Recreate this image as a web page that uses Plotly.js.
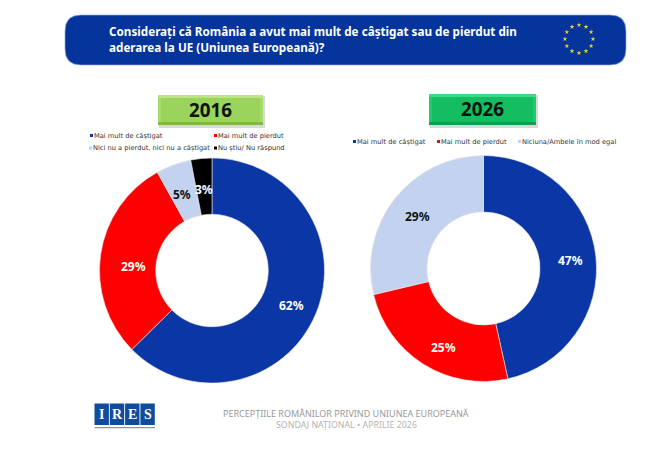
<!DOCTYPE html>
<html><head><meta charset="utf-8">
<script src="https://cdn.plot.ly/plotly-3.0.1.min.js"></script>
<style>html,body{margin:0;padding:0;background:#fff}</style></head>
<body><div id="chart" style="width:648px;height:476px"></div>
<script>
const labels2016 = ["Mai mult de câștigat","Mai mult de pierdut","Nici nu a pierdut, nici nu a câștigat","Nu știu/ Nu răspund"];
const values2016 = [62,29,5,3];
const colors2016 = ["#0B36A5","#FF0000","#C3D3EF","#000000"];
const textColors2016 = ["#ffffff","#ffffff","#111111","#ffffff"];
const labels2026 = ["Mai mult de câștigat","Mai mult de pierdut","Niciuna/Ambele în mod egal"];
const values2026 = [47,25,29];
const colors2026 = ["#0B36A5","#FF0000","#C3D3EF"];
const textColors2026 = ["#ffffff","#ffffff","#111111"];
const questionLines = ["Considerați că România a avut mai mult de câștigat sau de pierdut din","aderarea la UE (Uniunea Europeană)?"];
const footerLines = ["PERCEPȚIILE ROMÂNILOR PRIVIND UNIUNEA EUROPEANĂ","SONDAJ NAȚIONAL • APRILIE 2026"];
const logoLetters = ["I","R","E","S"];
const W=648,H=476;
const px=x=>x/W, py=y=>1-y/H;
const FONT='"Noto Sans", "DejaVu Sans", sans-serif';
const shapes=[],annotations=[];
function rect(x0,y0,x1,y1,fill){shapes.push({type:'rect',xref:'paper',yref:'paper',x0:px(x0),x1:px(x1),y0:py(y0),y1:py(y1),fillcolor:fill,line:{width:0},layer:'below'});}
function txt(x,y,t,size,color,anchor,bold,fam){annotations.push({xref:'paper',yref:'paper',x:px(x),y:py(y),text:bold?'<b>'+t+'</b>':t,showarrow:false,xanchor:anchor||'left',yanchor:'middle',font:{family:fam||FONT,size:size,color:color},borderpad:0,borderwidth:0});}
function pie(vals,labs,cols,tc,cx,cy,r,offsets){
 const total=vals.reduce((a,b)=>a+b,0);let cum=0;
 vals.forEach((v,i)=>{const a=(cum+v/2)/total*2*Math.PI;cum+=v;
  txt(cx+0.75*r*Math.sin(a)+offsets[i][0],cy-0.75*r*Math.cos(a)+offsets[i][1],v+'%',12,tc[i],'center',true);});
 return {type:'pie',values:vals,labels:labs,sort:false,direction:'clockwise',rotation:0,hole:0.5,
 marker:{colors:cols,line:{width:0.6,color:'#e8e8e8'}},textinfo:'none',showlegend:false,hoverinfo:'label+percent',
 domain:{x:[px(cx-r),px(cx+r)],y:[py(cy+r),py(cy-r)]}};}
// banner
const bx0=65,bx1=626,by0=15,by1=65,br=16;
shapes.push({type:'path',xref:'paper',yref:'paper',layer:'below',fillcolor:'#04349C',line:{width:0.7,color:'#8FA9DA'},
 path:`M ${px(bx0+br)} ${py(by0)} L ${px(bx1-br)} ${py(by0)} Q ${px(bx1)} ${py(by0)} ${px(bx1)} ${py(by0+br)} L ${px(bx1)} ${py(by1-br)} Q ${px(bx1)} ${py(by1)} ${px(bx1-br)} ${py(by1)} L ${px(bx0+br)} ${py(by1)} Q ${px(bx0)} ${py(by1)} ${px(bx0)} ${py(by1-br)} L ${px(bx0)} ${py(by0+br)} Q ${px(bx0)} ${py(by0)} ${px(bx0+br)} ${py(by0)} Z`});
txt(109,31.5,questionLines[0],11.7,'#fff','left',true);
txt(109,47,questionLines[1],11.7,'#fff','left',true);
// EU stars (decoration, on hidden pixel axes)
const starAngles=[0,30,60,90,120,150,180,210,240,270,300,330];
const stars={type:'scatter',mode:'markers',x:starAngles.map(a=>579+14*Math.sin(a*Math.PI/180)),y:starAngles.map(a=>39-14*Math.cos(a*Math.PI/180)),
 marker:{symbol:'star',size:3.6,color:'#EFD22A',line:{width:0}},hoverinfo:'skip',showlegend:false,xaxis:'x',yaxis:'y'};
// year boxes
function yearBox(x0,y0,x1,y1,top,mid,side,bot,label){
 rect(x0+1,y0+1,x1+2,y1+3,'#d9d9d9');
 rect(x0,y0,x1,y1,mid);
 rect(x0,y0,x0+3,y1,side);rect(x1-3,y0,x1,y1,side);
 rect(x0,y0,x1,y0+3,top);rect(x0,y1-3,x1,y1,bot);
 txt((x0+x1)/2,(y0+y1)/2,label,18.8,'#111','center',true);
}
yearBox(158,95,263,125,'#BDE583','#9BD45C','#A9DB6C','#7FB845','2016');
yearBox(429,94,536,125,'#3ED886','#12BE60','#1FC96E','#0B9F4E','2026');
// legends
function leg(x,y,label,color){rect(x,y-1.5,x+3,y+1.5,color);txt(x+4,y,label,6.7,'#333','left',false,'"DejaVu Sans", sans-serif');}
leg(90,135.5,labels2016[0],colors2016[0]);leg(214,135.5,labels2016[1],colors2016[1]);
leg(89,148,labels2016[2],colors2016[2]);leg(214,148,labels2016[3],colors2016[3]);
leg(353,141.5,labels2026[0],colors2026[0]);leg(437,141.5,labels2026[1],colors2026[1]);leg(518,141.5,labels2026[2],colors2026[2]);
// IRES logo
logoLetters.forEach((c,i)=>{const x=94.5+i*15.3;rect(x,403.5,x+14.4,425,'#0F4C9E');txt(x+7.2,414.5,c,14,'#fff','center',true,'"Liberation Serif", serif');});
rect(94.5,427,155,428.2,'#8A93A6');
// footer
txt(345.5,413,footerLines[0],9,'#999999','center',false);
txt(346.5,425,footerLines[1],8.8,'#b4b4b4','center',false);
const pie2016=pie(values2016,labels2016,colors2016,textColors2016,212,270.5,112.5,[[2,2],[5,8],[-1,3],[0,3]]);
const pie2026=pie(values2026,labels2026,colors2026,textColors2026,483.5,268.5,113,[[3,1],[5,7],[0,1]]);
Plotly.newPlot('chart',[pie2016,pie2026,stars],
 {width:W,height:H,margin:{l:0,r:0,t:0,b:0,pad:0},paper_bgcolor:'#fff',plot_bgcolor:'rgba(0,0,0,0)',showlegend:false,shapes,annotations,font:{family:FONT},
  xaxis:{visible:false,range:[0,W],fixedrange:true},yaxis:{visible:false,range:[H,0],fixedrange:true}},{displayModeBar:false,staticPlot:true});
</script></body></html>
